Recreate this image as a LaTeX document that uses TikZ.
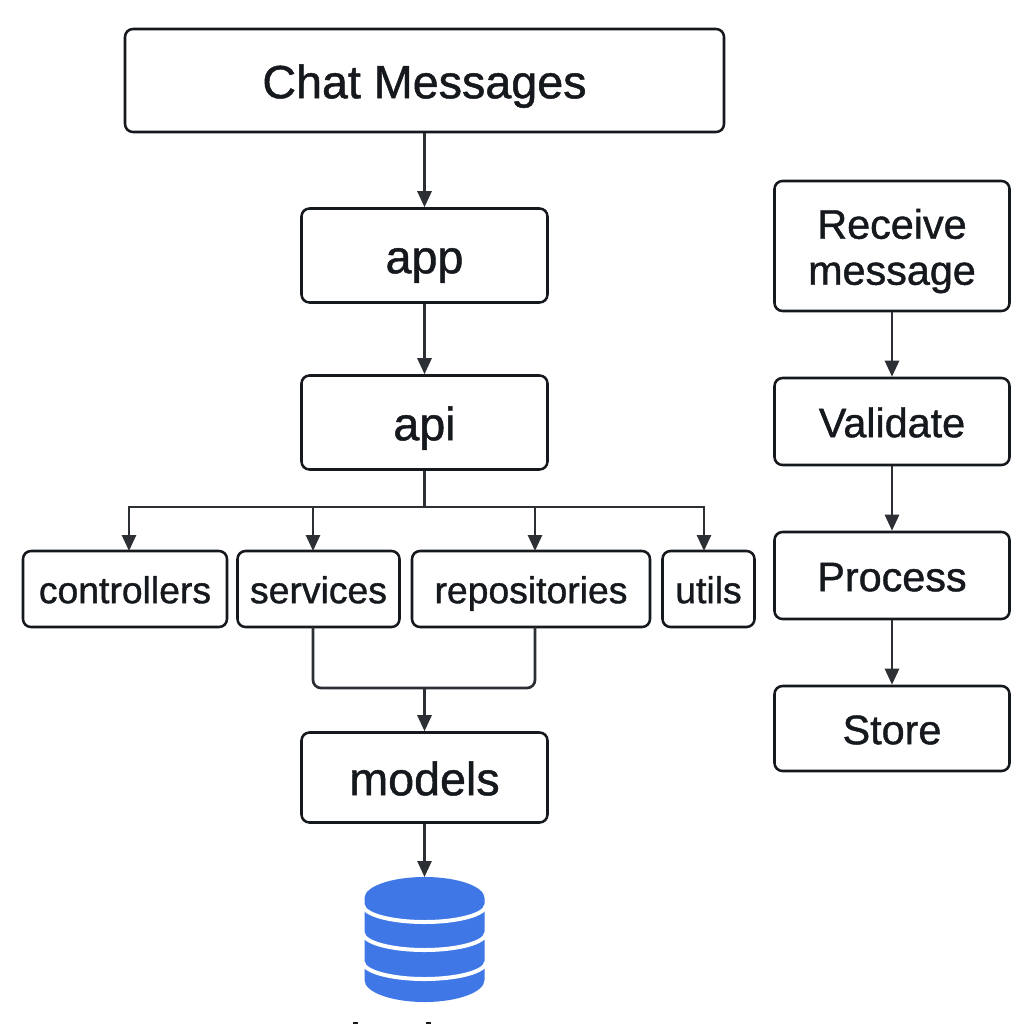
\documentclass[tikz,border=0pt]{standalone}
\usepackage{fontspec}
\setmainfont{Liberation Sans}
\newfontfamily\medfont[FakeBold=1]{Liberation Sans}
\usetikzlibrary{arrows.meta}
\definecolor{ink}{HTML}{15181C}
\definecolor{dbblue}{HTML}{3F78E6}
\newcommand{\st}[1]{\rule[-0.1em]{0pt}{0.96em}\smash{#1}}
\tikzset{
  px/.style={x=0.75pt,y=-0.75pt},
  box/.style={draw=ink,line width=1.9pt,rounded corners=6pt,fill=white,text=ink,inner sep=0pt,align=center},
  bigt/.style={font=\medfont\fontsize{35}{40}\selectfont},
  midt/.style={font=\medfont\fontsize{31}{34.5}\selectfont},
  smat/.style={font=\medfont\fontsize{28}{32}\selectfont},
  arr/.style={draw=ink!90,line width=2pt,-{Triangle[length=12pt,width=10.5pt]}},
  lin/.style={draw=ink!90,line width=2pt,rounded corners=6pt},
  band/.style={draw=white,line width=3pt},
}
\newcommand{\boxat}[7]{\node[box,#7,minimum width=#4*0.75pt,minimum height=#5*0.75pt] (#1) at (#2,#3) {#6};}
\begin{document}
\begin{tikzpicture}[px]
\useasboundingbox (0,0) rectangle (1024,1024);
\fill[white] (0,0) rectangle (1024,1024);
\boxat{chat}{424.5}{80.5}{599}{103}{\st{Chat Messages}}{bigt}
\boxat{app}{424.5}{255.5}{246}{94}{\st{app}}{bigt}
\boxat{api}{424.5}{422.5}{246}{94}{\st{api}}{bigt}
\boxat{ctrl}{125}{589}{204}{76}{\st{controllers}}{smat}
\boxat{serv}{318.5}{589}{162}{76}{\st{services}}{smat}
\boxat{repo}{531}{589}{238}{76}{\st{repositories}}{smat}
\boxat{utils}{708.5}{589}{92}{76}{\st{utils}}{smat}
\boxat{models}{424.5}{777.5}{246}{90}{\st{models}}{bigt}
\boxat{recv}{892}{246}{235}{130}{\st{Receive}\\\st{message}}{midt}
\boxat{val}{892}{421.5}{235}{87}{\st{Validate}}{midt}
\boxat{proc}{892}{575.5}{235}{87}{\st{Process}}{midt}
\boxat{store}{892}{728.5}{235}{85}{\st{Store}}{midt}
% database icon
\fill[dbblue] (364.5,898) -- (364.5,980) arc[start angle=180,end angle=0,x radius=60,y radius=22] -- (484.5,898) arc[start angle=0,end angle=-180,x radius=60,y radius=21] -- cycle;
\draw[band] (363,905) arc[start angle=180,end angle=0,x radius=61.5,y radius=17];
\draw[band] (363,933) arc[start angle=180,end angle=0,x radius=61.5,y radius=17];
\draw[band] (363,962) arc[start angle=180,end angle=0,x radius=61.5,y radius=17];
\coordinate (bus) at (424.5,507);
\coordinate (join) at (424.5,688);
\coordinate (dbtop) at (424.5,877);
\coordinate (tctrl) at (129,551);
\coordinate (tserv) at (313,551);
\coordinate (trepo) at (535,551);
\coordinate (tutil) at (704,551);
\coordinate (bserv) at (313,627);
\coordinate (brepo) at (535,627);
\draw[arr] (chat) -- (app);
\draw[arr] (app) -- (api);
\draw[lin] (api.south) -- (bus);
\draw[arr] (bus) -| (tctrl);
\draw[arr] (bus) -| (tserv);
\draw[arr] (bus) -| (trepo);
\draw[arr] (bus) -| (tutil);
\draw[lin] (bserv) |- (join) -| (brepo);
\draw[arr] (join) -- (models);
\draw[arr] (models) -- (dbtop);
\draw[arr] (recv) -- (val);
\draw[arr] (val) -- (proc);
\draw[arr] (proc) -- (store);
% tops of the label cut off by the lower edge
\fill[ink] (352.5,1022) rectangle (358,1024);
\fill[ink] (425.5,1022) rectangle (431,1024);
\end{tikzpicture}
\end{document}
